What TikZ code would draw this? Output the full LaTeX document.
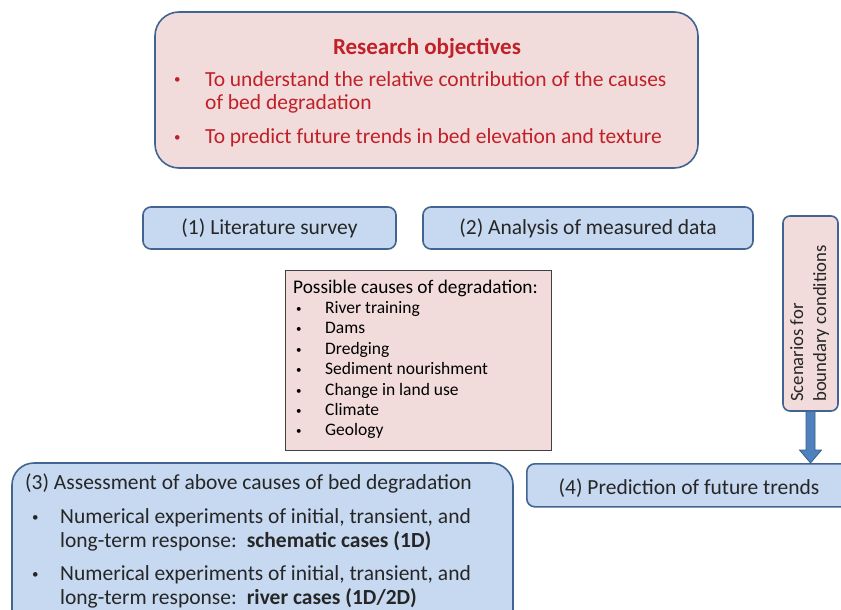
\documentclass[tikz,border=0pt]{standalone}
\usepackage{fontspec}
\setmainfont{Carlito}
\usetikzlibrary{calc}
\definecolor{pinkfill}{RGB}{242,220,219}
\definecolor{bluefill}{RGB}{198,217,241}
\definecolor{boxborder}{RGB}{65,100,145}
\definecolor{redtext}{RGB}{192,32,40}
\definecolor{darktext}{RGB}{38,38,38}
\definecolor{arrowblue}{RGB}{79,129,189}
\definecolor{arrowdark}{RGB}{56,93,138}
\begin{document}
\begin{tikzpicture}[x=1pt,y=-1pt,
  objbox/.style={draw=boxborder,line width=1.6pt,fill=pinkfill,rounded corners=24pt},
  stagebox/.style={draw=boxborder,line width=1.6pt,fill=bluefill,rounded corners=8pt},
  bigstage/.style={draw=boxborder,line width=1.6pt,fill=bluefill,rounded corners=22pt},
  causebox/.style={draw=black!75,line width=1pt,fill=pinkfill},
  scenbox/.style={draw=boxborder,line width=1.6pt,fill=pinkfill,rounded corners=7pt},
  redtxt/.style={text=redtext,font=\fontsize{21.5}{25}\selectfont,inner sep=0pt,anchor=base west},
  redbul/.style={text=redtext,font=\fontsize{13}{15}\selectfont,inner sep=0pt,anchor=base west},
  dtxt/.style={text=darktext,font=\fontsize{21.5}{25}\selectfont,inner sep=0pt},
  dbul/.style={text=darktext,font=\fontsize{13}{15}\selectfont,inner sep=0pt,anchor=base west},
  ctxt/.style={text=black,font=\fontsize{17.5}{20}\selectfont,inner sep=0pt,anchor=base west},
  cbul/.style={text=black,font=\fontsize{11}{13}\selectfont,inner sep=0pt,anchor=base west},
]
\clip (0,0) rectangle (841,610);
\fill[white] (0,0) rectangle (841,610);

% objectives
\path[objbox] (155,12) rectangle (698,168);
\node[redtxt,anchor=base,font=\bfseries\fontsize{23}{26}\selectfont] (title) at (427,55) {Research objectives};
\node[redbul] (ob1) at (174,84) {•};
\node[redtxt] (o1a) at (205,86) {To understand the relative contribution of the causes};
\node[redtxt] (o1b) at (205,110) {of bed degradation};
\node[redbul] (ob2) at (174,141) {•};
\node[redtxt] (o2) at (205,143) {To predict future trends in bed elevation and texture};

% stage 1 and 2
\node[stagebox,dtxt,minimum width=253pt,minimum height=42pt] (s1) at (269.5,228) {(1) Literature survey};
\node[stagebox,dtxt,minimum width=330pt,minimum height=42pt] (s2) at (588,228) {(2) Analysis of measured data};

% causes
\path[causebox] (285,270) rectangle (551,450);
\node[ctxt,font=\fontsize{19.3}{22}\selectfont] (ch) at (293,293) {Possible causes of degradation:};
\foreach \t [count=\i] in {River training,Dams,Dredging,Sediment nourishment,Change in land use,Climate,Geology}{
  \node[cbul] (cb\i) at (296,{312.5+20.4*(\i-1)}) {•};
  \node[ctxt] (c\i) at (325,{313.5+20.4*(\i-1)}) {\t};
}

% scenarios
\node[scenbox,minimum width=55pt,minimum height=195pt] (scen) at (810.5,313.5) {};
\node[rotate=90,anchor=north west,align=left,inner sep=0pt,text=darktext,font=\fontsize{18.7}{23}\selectfont] (scentxt) at (790,402) {Scenarios for\\boundary conditions};

% stage 3
\path[bigstage] (12,463) rectangle (513,640);
\node[dtxt,anchor=base west] (s3h) at (25,489) {(3) Assessment of above causes of bed degradation};
\node[dbul] (s3b1) at (32,521) {•};
\node[dtxt,anchor=base west] (s3a) at (60,523) {Numerical experiments of initial, transient, and};
\node[dtxt,anchor=base west] (s3b) at (60,547) {long-term response:\, \textbf{schematic cases (1D)}};
\node[dbul] (s3b2) at (32,578) {•};
\node[dtxt,anchor=base west] (s3c) at (60,580) {Numerical experiments of initial, transient, and};
\node[dtxt,anchor=base west] (s3d) at (60,604) {long-term response:\, \textbf{river cases (1D/2D)}};

% stage 4
\node[stagebox,dtxt,minimum width=330pt,minimum height=43pt,anchor=north west] (s4) at (526,463) {};
\node[dtxt,anchor=base] (s4t) at (689,494) {(4) Prediction of future trends};

% arrow
\coordinate (a1) at (scen.south);
\coordinate (a2) at (s4.north -| scen.south);
\draw[fill=arrowblue,draw=arrowdark,line width=0.8pt,line join=miter]
  ($(a1)+(-4.5,0)$) -- ($(a2)+(-4.5,-13)$) -- ($(a2)+(-11,-13)$) -- (a2)
  -- ($(a2)+(11,-13)$) -- ($(a2)+(4.5,-13)$) -- ($(a1)+(4.5,0)$);
\end{tikzpicture}
\end{document}
